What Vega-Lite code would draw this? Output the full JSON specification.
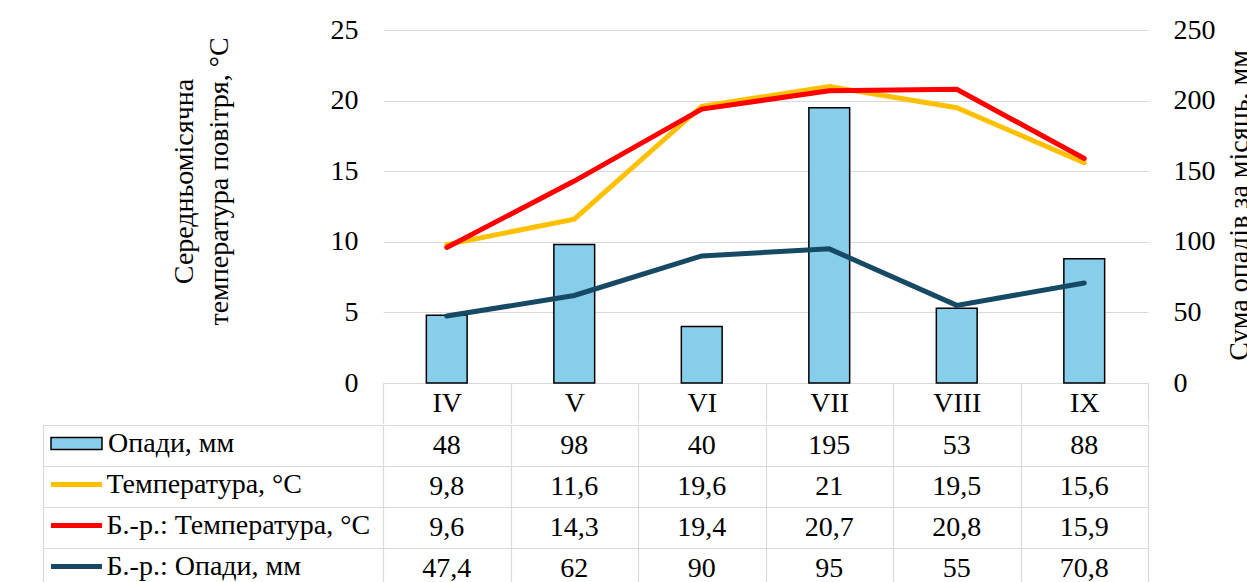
{
  "$schema": "https://vega.github.io/schema/vega-lite/v6.json",
  "padding": {"left": 42, "top": 16, "right": 0, "bottom": 0},
  "background": "white",
  "spacing": 0,
  "config": {
    "font": "Liberation Serif",
    "view": {"stroke": null},
    "locale": {"number": {"decimal": ",", "thousands": " ", "grouping": [3], "currency": ["", ""]}},
    "axis": {
      "labelFont": "Liberation Serif", "labelFontSize": 28, "labelColor": "#000000",
      "titleFont": "Liberation Serif", "titleFontSize": 28, "titleFontWeight": "normal", "titleColor": "#000000",
      "gridColor": "#d9d9d9", "domainColor": "#d9d9d9", "tickColor": "#d9d9d9", "gridWidth": 1.2, "domainWidth": 1.2, "tickWidth": 1.2
    },
    "legend": {"labelFont": "Liberation Serif", "labelFontSize": 28, "labelColor": "#000000", "labelLimit": 500, "padding": 0}
  },
  "data": {"values": [
    {"month": "IV", "series": "Опади, мм", "value": 48},
    {"month": "IV", "series": "Температура, °C", "value": 9.8},
    {"month": "IV", "series": "Б.-р.: Температура, °C", "value": 9.6},
    {"month": "IV", "series": "Б.-р.: Опади, мм", "value": 47.4},
    {"month": "V", "series": "Опади, мм", "value": 98},
    {"month": "V", "series": "Температура, °C", "value": 11.6},
    {"month": "V", "series": "Б.-р.: Температура, °C", "value": 14.3},
    {"month": "V", "series": "Б.-р.: Опади, мм", "value": 62},
    {"month": "VI", "series": "Опади, мм", "value": 40},
    {"month": "VI", "series": "Температура, °C", "value": 19.6},
    {"month": "VI", "series": "Б.-р.: Температура, °C", "value": 19.4},
    {"month": "VI", "series": "Б.-р.: Опади, мм", "value": 90},
    {"month": "VII", "series": "Опади, мм", "value": 195},
    {"month": "VII", "series": "Температура, °C", "value": 21},
    {"month": "VII", "series": "Б.-р.: Температура, °C", "value": 20.7},
    {"month": "VII", "series": "Б.-р.: Опади, мм", "value": 95},
    {"month": "VIII", "series": "Опади, мм", "value": 53},
    {"month": "VIII", "series": "Температура, °C", "value": 19.5},
    {"month": "VIII", "series": "Б.-р.: Температура, °C", "value": 20.8},
    {"month": "VIII", "series": "Б.-р.: Опади, мм", "value": 55},
    {"month": "IX", "series": "Опади, мм", "value": 88},
    {"month": "IX", "series": "Температура, °C", "value": 15.6},
    {"month": "IX", "series": "Б.-р.: Температура, °C", "value": 15.9},
    {"month": "IX", "series": "Б.-р.: Опади, мм", "value": 70.8}
  ]},
  "vconcat": [
    {
      "width": 765,
      "height": 353,
      "layer": [
        {
          "layer": [
            {
              "transform": [{"filter": "datum.series === 'Опади, мм'"}],
              "mark": {"type": "bar", "width": {"band": 0.32}, "stroke": "#000000", "strokeWidth": 1.5},
              "encoding": {
                "x": {"field": "month", "type": "nominal", "sort": ["IV", "V", "VI", "VII", "VIII", "IX"],
                  "scale": {"paddingInner": 0, "paddingOuter": 0},
                  "axis": {"orient": "bottom", "title": null, "grid": false, "domain": true, "ticks": true, "tickBand": "extent", "tickSize": 40, "labelPadding": -20, "labelBaseline": "middle", "labelAngle": 0}},
                "y": {"field": "value", "type": "quantitative", "scale": {"domain": [0, 250], "nice": false, "zero": true},
                  "axis": {"orient": "right", "values": [0, 50, 100, 150, 200, 250], "grid": false, "domain": false, "ticks": false, "labelPadding": 25,
                    "title": "Сума опадів за місяць, мм", "titleAngle": -90, "titleX": 99, "titleY": 175, "titleAlign": "center", "titleBaseline": "alphabetic"}},
                "color": {"field": "series", "type": "nominal",
                  "scale": {"domain": ["Опади, мм"], "range": ["#87CEEB"]},
                  "legend": {"orient": "none", "legendX": -333, "legendY": 387, "direction": "vertical", "title": null,
                    "symbolType": "M-1,-0.235H1V0.235H-1Z", "symbolSize": 2601, "symbolStrokeWidth": 1.5, "symbolStrokeColor": "#000000",
                    "labelOffset": 5}}
              }
            },
            {
              "transform": [{"filter": "datum.series === 'Б.-р.: Опади, мм'"}],
              "mark": {"type": "line", "strokeWidth": 5, "strokeCap": "round"},
              "encoding": {
                "x": {"field": "month", "type": "nominal", "sort": ["IV", "V", "VI", "VII", "VIII", "IX"]},
                "y": {"field": "value", "type": "quantitative"},
                "stroke": {"field": "series", "type": "nominal",
                  "scale": {"domain": ["Температура, °C", "Б.-р.: Температура, °C", "Б.-р.: Опади, мм"], "range": ["#FFC000", "#FF0000", "#164A64"]},
                  "legend": {"orient": "none", "legendX": -334.5, "legendY": 440.5, "direction": "vertical", "title": null,
                    "symbolType": "stroke", "symbolSize": 2601, "symbolStrokeWidth": 5, "labelOffset": 2, "rowPadding": 13, "clipHeight": 28}}
              }
            }
          ]
        },
        {
          "layer": [
            {
              "transform": [{"filter": "datum.series === 'Температура, °C'"}],
              "mark": {"type": "line", "strokeWidth": 5, "strokeCap": "round"},
              "encoding": {
                "x": {"field": "month", "type": "nominal", "sort": ["IV", "V", "VI", "VII", "VIII", "IX"]},
                "y": {"field": "value", "type": "quantitative", "scale": {"domain": [0, 25], "nice": false, "zero": true},
                  "axis": {"orient": "left", "values": [0, 5, 10, 15, 20, 25], "grid": true, "domain": false, "ticks": false, "labelPadding": 25,
                    "title": ["Середньомісячна", "температура повітря, °C"], "titleAngle": -90, "titleX": -191, "titleY": 151, "titleAlign": "center", "titleBaseline": "alphabetic", "titleLineHeight": 35}},
                "stroke": {"field": "series", "type": "nominal"}
              }
            },
            {
              "transform": [{"filter": "datum.series === 'Б.-р.: Температура, °C'"}],
              "mark": {"type": "line", "strokeWidth": 5, "strokeCap": "round"},
              "encoding": {
                "x": {"field": "month", "type": "nominal", "sort": ["IV", "V", "VI", "VII", "VIII", "IX"]},
                "y": {"field": "value", "type": "quantitative"},
                "stroke": {"field": "series", "type": "nominal"}
              }
            }
          ]
        }
      ],
      "resolve": {"scale": {"y": "independent"}, "axis": {"y": "independent"}}
    },
    {
      "width": 765,
      "height": 164,
      "mark": {"type": "text", "fontSize": 28, "font": "Liberation Serif", "color": "#000000", "baseline": "middle", "align": "center"},
      "encoding": {
        "x": {"field": "month", "type": "nominal", "sort": ["IV", "V", "VI", "VII", "VIII", "IX"],
          "scale": {"paddingInner": 0, "paddingOuter": 0},
          "axis": {"orient": "top", "title": null, "labels": false, "ticks": false, "domain": false, "grid": true, "tickBand": "extent"}},
        "y": {"field": "series", "type": "nominal", "sort": ["Опади, мм", "Температура, °C", "Б.-р.: Температура, °C", "Б.-р.: Опади, мм"],
          "scale": {"paddingInner": 0, "paddingOuter": 0},
          "axis": {"orient": "left", "title": null, "labels": false, "offset": 340, "ticks": true, "tickSize": -340, "tickBand": "extent", "grid": true, "domain": true}},
        "text": {"field": "value", "type": "quantitative", "format": "~g"}
      }
    }
  ]
}
